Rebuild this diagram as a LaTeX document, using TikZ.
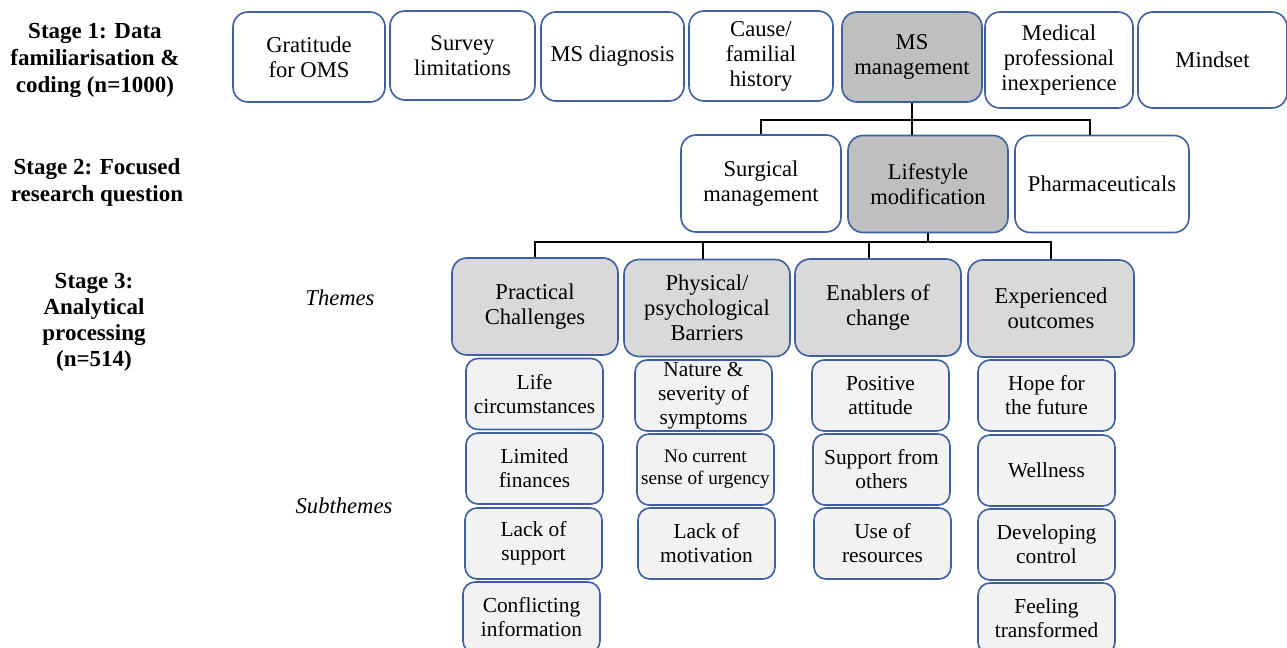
\documentclass[tikz,border=0pt]{standalone}
\usepackage{fontspec}
\setmainfont{Liberation Serif}
\definecolor{edgeblue}{RGB}{62,96,160}
\definecolor{pickgray}{RGB}{191,191,191}
\definecolor{themegray}{RGB}{217,217,217}
\definecolor{subgray}{RGB}{242,242,242}
\begin{document}
\begin{tikzpicture}[
  x=0.5pt, y=-0.5pt,
  box/.style={draw=edgeblue, line width=0.8pt, rounded corners=7.5pt, align=center, inner sep=1pt, font=\fontsize{11.3}{12.5}\selectfont},
  codebox/.style={box, fill=white, minimum width=72pt, minimum height=45pt},
  focusbox/.style={box, fill=white, minimum width=80pt, minimum height=48.5pt},
  picked/.style={fill=pickgray},
  theme/.style={box, fill=themegray, minimum width=83pt, minimum height=48.5pt},
  subtheme/.style={box, fill=subgray, rounded corners=6pt, minimum width=68.5pt, minimum height=35.5pt, font=\fontsize{10.7}{12}\selectfont},
  stage/.style={align=center, font=\fontsize{11.5}{13.5}\selectfont\bfseries},
  level/.style={font=\fontsize{11.3}{12.5}\selectfont\itshape},
  link/.style={line width=1pt}
]
\useasboundingbox (0,0) rectangle (1287,648);
\clip (0,0) rectangle (1287,648);
\node[stage] (s1) at (95,60) {Stage 1: Data\\familiarisation \&\\coding (n=1000)};
\node[stage] (s2) at (97,182.5) {Stage 2: Focused\\research question};
\node[stage, font=\fontsize{11.5}{13}\selectfont\bfseries] (s3) at (94,322) {Stage 3:\\Analytical\\processing\\(n=514)};
\node[level] (lthemes) at (340,298) {Themes};
\node[level] (lsub) at (344,506) {Subthemes};
\node[codebox, minimum width=76pt] (gratitude) at (309,57) {Gratitude\\for OMS};
\node[codebox, minimum width=72.5pt, minimum height=44.5pt] (survey) at (462.5,55.5) {Survey\\limitations};
\node[codebox, minimum width=71.5pt, minimum height=44.5pt] (diagnosis) at (612.5,56.5) {MS diagnosis};
\node[codebox] (cause) at (761,56) {Cause/\\familial\\history};
\node[codebox, picked, minimum width=70pt] (ms) at (912,57) {MS\\management};
\node[codebox, minimum width=74pt, minimum height=48pt] (medical) at (1059,60) {Medical\\professional\\inexperience};
\node[codebox, minimum width=74.5pt, minimum height=48pt] (mindset) at (1212.5,60) {Mindset};
\node[focusbox] (surgical) at (761,183.5) {Surgical\\management};
\node[focusbox, picked] (lifestyle) at (928,184) {Lifestyle\\modification};
\node[focusbox, minimum width=87pt] (pharma) at (1102,184) {Pharmaceuticals};
\node[theme] (practical) at (535,306.5) {Practical\\Challenges};
\node[theme] (barriers) at (707,308) {Physical/\\psychological\\Barriers};
\node[theme] (enablers) at (878,307.5) {Enablers of\\change};
\node[theme] (outcomes) at (1051,308.5) {Experienced\\outcomes};
\node[subtheme] (life) at (534.5,394) {Life\\circumstances};
\node[subtheme] (finances) at (534.5,468.5) {Limited\\finances};
\node[subtheme] (support) at (533.5,543.5) {Lack of\\support};
\node[subtheme] (conflicting) at (531.5,617.5) {Conflicting\\information};
\node[subtheme] (nature) at (703.5,395.5) {Nature \&\\severity of\\symptoms};
\node[subtheme, font=\fontsize{9.6}{11}\selectfont] (urgency) at (705.5,469.5) {No current\\sense of urgency};
\node[subtheme] (motivation) at (706.5,543.5) {Lack of\\motivation};
\node[subtheme] (positive) at (880.5,395.5) {Positive\\attitude};
\node[subtheme] (others) at (881.5,469.5) {Support from\\others};
\node[subtheme] (resources) at (882.5,543.5) {Use of\\resources};
\node[subtheme] (hope) at (1046.5,395.5) {Hope for\\the future};
\node[subtheme] (wellness) at (1046.5,470.5) {Wellness};
\node[subtheme] (control) at (1046.5,544.5) {Developing\\control};
\node[subtheme] (transformed) at (1046.5,618.5) {Feeling\\transformed};
\coordinate (bar2) at (0,120);
\coordinate (bar3) at (0,242);
\draw[link] (ms.south) -- (ms.south |- lifestyle.north);
\draw[link] (surgical.north) |- ([xshift=-6pt]pharma.north |- bar2) -- ([xshift=-6pt]pharma.north);
\draw[link] (lifestyle.south) -- (lifestyle.south |- bar3);
\draw[link] (practical.north) |- (outcomes.north |- bar3) -- (outcomes.north);
\draw[link] ([xshift=-2pt]barriers.north) -- ([xshift=-2pt]barriers.north |- bar3);
\draw[link] ([xshift=-4.5pt]enablers.north) -- ([xshift=-4.5pt]enablers.north |- bar3);
\end{tikzpicture}
\end{document}
